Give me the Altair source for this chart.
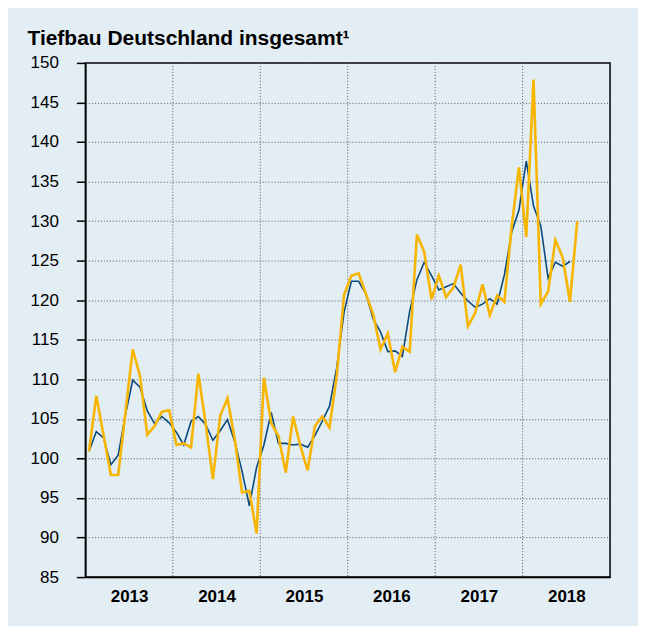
import altair as alt
import pandas as pd

# Monthly index values, Jan 2013 .. Aug 2018 (yellow, original values)
monthly = [
    100.9, 107.9, 102.9, 97.9, 97.9, 105.8, 113.8, 110.4, 103.0, 104.1, 105.9, 106.1,   # 2013
    101.7, 101.9, 101.4, 110.7, 104.5, 97.4, 105.4, 107.6, 102.4, 95.7, 95.9, 90.5,     # 2014
    110.2, 104.5, 102.8, 98.2, 105.3, 101.6, 98.5, 104.1, 105.3, 103.9, 110.5, 120.7,   # 2015
    123.1, 123.4, 120.8, 118.2, 113.8, 115.8, 110.9, 114.1, 113.5, 128.3, 126.1, 120.1, # 2016
    123.1, 120.4, 121.6, 124.5, 116.7, 118.4, 122.0, 118.1, 120.6, 119.8, 129.3, 136.8, # 2017
    128.0, 147.9, 119.5, 121.1, 127.6, 125.4, 119.8, 130.0,                             # 2018
]
# Smoothed values (blue), Jan 2013 .. Jul 2018
smoothed = [
    100.9, 103.4, 102.6, 99.2, 100.4, 105.5, 109.9, 109.0, 106.0, 104.4, 105.3, 104.5,  # 2013
    103.3, 101.7, 104.7, 105.3, 104.3, 102.3, 103.5, 104.9, 102.1, 98.4, 94.0, 98.9,    # 2014
    101.7, 105.8, 101.9, 101.9, 101.7, 101.8, 101.4, 102.9, 104.7, 106.6, 111.5, 118.5, # 2015
    122.4, 122.4, 120.8, 117.6, 116.0, 113.5, 113.6, 112.9, 118.6, 122.6, 124.8, 123.1, # 2016
    121.3, 121.7, 122.1, 120.9, 119.9, 119.1, 119.5, 120.2, 119.5, 123.2, 128.6, 131.4, # 2017
    137.6, 131.9, 129.4, 122.8, 124.8, 124.3, 124.9,                                    # 2018
]
start_year = 2013
year_labels = [2013, 2014, 2015, 2016, 2017, 2018]
year_bounds = [2014, 2015, 2016, 2017, 2018]
y_ticks = list(range(85, 151, 5))

def frame(values):
    return pd.DataFrame({
        "t": [start_year + (i + 0.5) / 12 for i in range(len(values))],
        "v": values,
    })

df_m = frame(monthly)
df_s = frame(smoothed)
df_grid = pd.DataFrame({"t": year_bounds})

FONT = "Liberation Sans"

x_scale = alt.Scale(domain=[2013, 2019], nice=False, zero=False)
y_scale = alt.Scale(domain=[85, 150], nice=False, zero=False)

x_axis = alt.Axis(
    values=[y + 0.5 for y in year_labels],
    labelExpr="floor(datum.value)",
    grid=False, ticks=False, domain=True, domainColor="black", domainWidth=1.5,
    labelFont=FONT, labelFontSize=17, labelFontWeight="bold", labelColor="black",
    labelPadding=11, title=None,
)
y_axis = alt.Axis(
    values=y_ticks, grid=True, gridDash=[1, 2], gridColor="#555555", gridWidth=1,
    ticks=True, tickSize=9, tickColor="black", tickWidth=1.5,
    domain=True, domainColor="black", domainWidth=1.5,
    labelFont=FONT, labelFontSize=17, labelColor="black", labelPadding=18,
    title=None,
)

grid = alt.Chart(df_grid).mark_rule(strokeDash=[1, 2], color="#555555", strokeWidth=1).encode(
    x=alt.X("t:Q", scale=x_scale, axis=x_axis),
)

blue = alt.Chart(df_s).mark_line(color="#0D4A7C", strokeWidth=1.6).encode(
    x=alt.X("t:Q", scale=x_scale, axis=x_axis),
    y=alt.Y("v:Q", scale=y_scale, axis=y_axis),
)
yellow = alt.Chart(df_m).mark_line(color="#F7B500", strokeWidth=2.6).encode(
    x=alt.X("t:Q", scale=x_scale, axis=x_axis),
    y=alt.Y("v:Q", scale=y_scale, axis=y_axis),
)

chart = alt.layer(grid, blue, yellow).properties(
    width=525.5,
    height=515,
    title=alt.Title(
        "Tiefbau Deutschland insgesamt¹",
        anchor="start", frame="group", dx=-58, dy=22, offset=10,
        baseline="alphabetic",
        font=FONT, fontSize=21, fontWeight="bold", color="black",
    ),
    autosize=alt.AutoSizeParams(type="none"),
    padding={"left": 77.5, "top": 54.5, "right": 28, "bottom": 48.5},
).configure(
    background="#E3EDF4",
).configure_view(
    stroke="black", strokeWidth=1.5,
)

chart.save("out.html", embed_options={"renderer": "svg", "actions": False})
